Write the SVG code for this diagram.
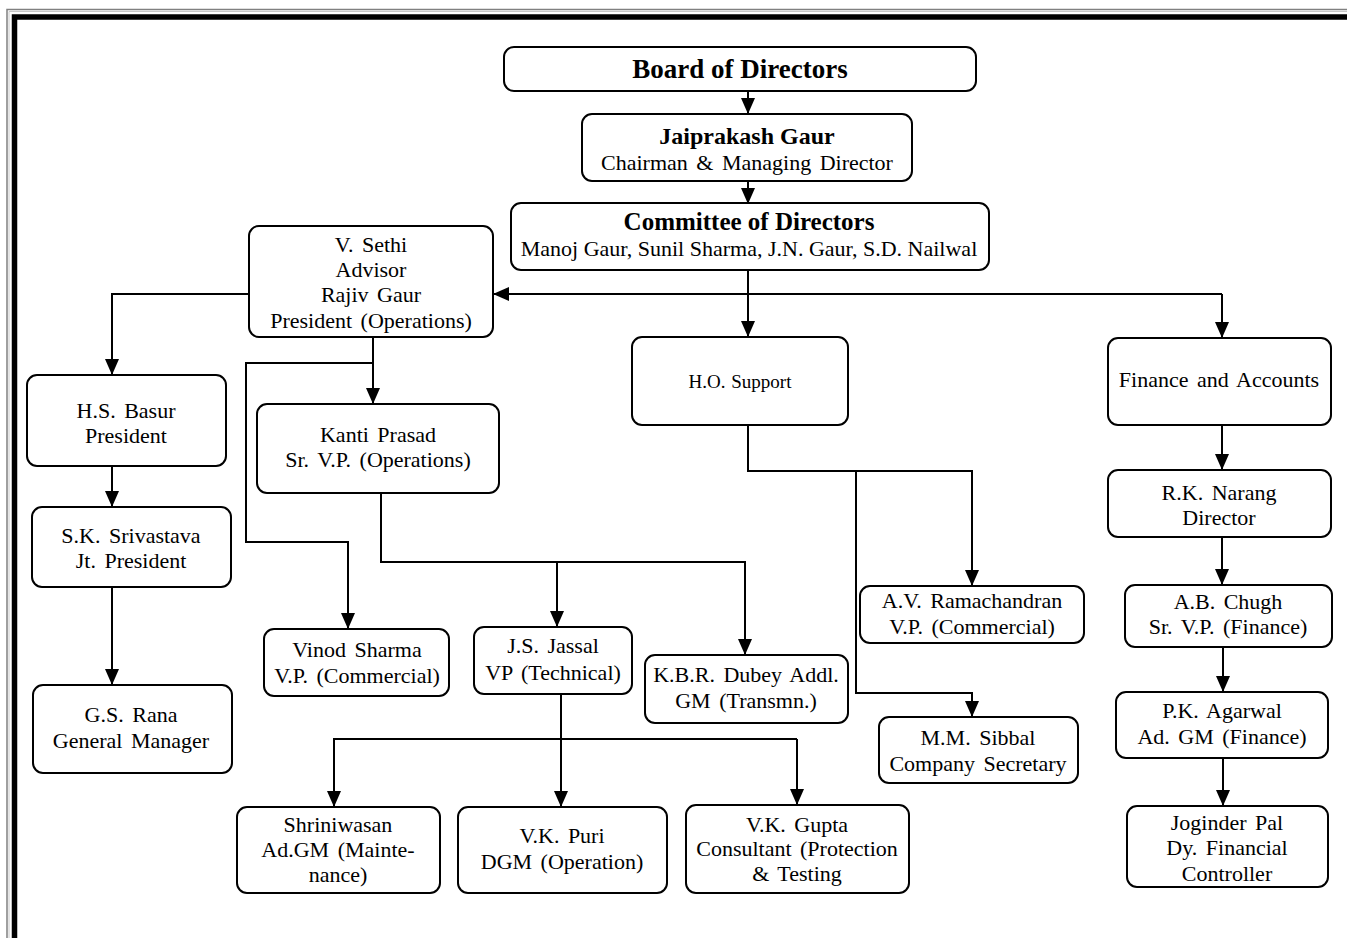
<svg xmlns="http://www.w3.org/2000/svg" width="1347" height="938" viewBox="0 0 1347 938">
<defs>
<marker id="arr" viewBox="0 0 16 14" refX="16" refY="7" markerWidth="16" markerHeight="14" markerUnits="userSpaceOnUse" orient="auto">
<path d="M0,0 L16,7 L0,14 z" fill="#000"/>
</marker>
<style>
.box{fill:#fff;stroke:#000;stroke-width:2}
.t{font-family:"Liberation Serif","Times New Roman",serif;font-size:22px;fill:#000;text-anchor:middle;word-spacing:3px}
.b{font-weight:bold;word-spacing:0}
.b1{font-size:27px}
.b2{font-size:24px}
.b3{font-size:25px}
.n{word-spacing:0}
.s{font-size:19px;word-spacing:1px}
.c{fill:none;stroke:#000;stroke-width:2}
.a{marker-end:url(#arr)}
</style>
</defs>
<rect width="1347" height="938" fill="#fff"/>
<g id="frame">
<path d="M7,945 V9.5 H1350" fill="none" stroke="#808080" stroke-width="1.5"/>
<path d="M9,945 V11.5 H1350" fill="none" stroke="#c8c8c8" stroke-width="1"/>
<path d="M14.5,945 V17 H1350" fill="none" stroke="#000" stroke-width="5.5"/>
</g>
<g id="connectors">
<path class="c a" d="M748,91 V114"/>
<path class="c a" d="M748,181 V204"/>
<path class="c a" d="M748,270 V337"/>
<path class="c a" d="M1222,294 H493"/>
<path class="c a" d="M1222,294 V338"/>
<path class="c a" d="M249,294 H112 V375"/>
<path class="c a" d="M373,337 V404"/>
<path class="c a" d="M373,363 H246 V542 H348 V629"/>
<path class="c a" d="M381,493 V562 H745 V655"/>
<path class="c a" d="M557,562 V627"/>
<path class="c a" d="M748,425 V471 H972 V586"/>
<path class="c a" d="M856,471 V693 H972 V717"/>
<path class="c a" d="M1222,425 V470"/>
<path class="c a" d="M1222,537 V585"/>
<path class="c a" d="M1223,647 V692"/>
<path class="c a" d="M1223,758 V806"/>
<path class="c a" d="M112,466 V507"/>
<path class="c a" d="M112,587 V685"/>
<path class="c a" d="M561,694 V807"/>
<path class="c a" d="M797,739 H334 V807"/>
<path class="c a" d="M797,739 V805"/>
</g>
<g id="board"><rect class="box" x="504" y="47" width="472" height="44" rx="10"/><text class="t b b1" x="740" y="78">Board of Directors</text></g>
<g id="jaiprakash"><rect class="box" x="582" y="114" width="330" height="67" rx="10"/><text class="t b b2" x="747" y="144">Jaiprakash Gaur</text><text class="t" x="747" y="170">Chairman &amp; Managing Director</text></g>
<g id="committee"><rect class="box" x="511" y="203" width="478" height="67" rx="10"/><text class="t b b3" x="749" y="230">Committee of Directors</text><text class="t n" x="749" y="256">Manoj Gaur, Sunil Sharma, J.N. Gaur, S.D. Nailwal</text></g>
<g id="sethi"><rect class="box" x="249" y="226" width="244" height="111" rx="10"/><text class="t" x="371" y="252">V. Sethi</text><text class="t" x="371" y="277">Advisor</text><text class="t" x="371" y="302">Rajiv Gaur</text><text class="t" x="371" y="328">President (Operations)</text></g>
<g id="basur"><rect class="box" x="27" y="375" width="199" height="91" rx="10"/><text class="t" x="126" y="418">H.S. Basur</text><text class="t" x="126" y="443">President</text></g>
<g id="kanti"><rect class="box" x="257" y="404" width="242" height="89" rx="10"/><text class="t" x="378" y="442">Kanti Prasad</text><text class="t" x="378" y="467">Sr. V.P. (Operations)</text></g>
<g id="srivastava"><rect class="box" x="32" y="507" width="199" height="80" rx="10"/><text class="t" x="131" y="543">S.K. Srivastava</text><text class="t" x="131" y="568">Jt. President</text></g>
<g id="rana"><rect class="box" x="33" y="685" width="199" height="88" rx="10"/><text class="t" x="131" y="722">G.S. Rana</text><text class="t" x="131" y="748">General Manager</text></g>
<g id="vinod"><rect class="box" x="264" y="629" width="185" height="67" rx="10"/><text class="t" x="357" y="657">Vinod Sharma</text><text class="t" x="357" y="683">V.P. (Commercial)</text></g>
<g id="jassal"><rect class="box" x="474" y="627" width="158" height="67" rx="10"/><text class="t" x="553" y="653">J.S. Jassal</text><text class="t" x="553" y="680">VP (Technical)</text></g>
<g id="dubey"><rect class="box" x="645" y="655" width="203" height="68" rx="10"/><text class="t" x="746" y="682">K.B.R. Dubey Addl.</text><text class="t" x="746" y="708">GM (Transmn.)</text></g>
<g id="hosupport"><rect class="box" x="632" y="337" width="216" height="88" rx="10"/><text class="t s" x="740" y="388">H.O. Support</text></g>
<g id="finance"><rect class="box" x="1108" y="338" width="223" height="87" rx="10"/><text class="t" x="1219" y="387">Finance and Accounts</text></g>
<g id="narang"><rect class="box" x="1108" y="470" width="223" height="67" rx="10"/><text class="t" x="1219" y="500">R.K. Narang</text><text class="t" x="1219" y="525">Director</text></g>
<g id="ramachandran"><rect class="box" x="860" y="586" width="224" height="57" rx="10"/><text class="t" x="972" y="608">A.V. Ramachandran</text><text class="t" x="972" y="634">V.P. (Commercial)</text></g>
<g id="sibbal"><rect class="box" x="879" y="717" width="199" height="66" rx="10"/><text class="t" x="978" y="745">M.M. Sibbal</text><text class="t" x="978" y="771">Company Secretary</text></g>
<g id="chugh"><rect class="box" x="1125" y="585" width="207" height="62" rx="10"/><text class="t" x="1228" y="609">A.B. Chugh</text><text class="t" x="1228" y="634">Sr. V.P. (Finance)</text></g>
<g id="agarwal"><rect class="box" x="1116" y="692" width="212" height="66" rx="10"/><text class="t" x="1222" y="718">P.K. Agarwal</text><text class="t" x="1222" y="744">Ad. GM (Finance)</text></g>
<g id="joginder"><rect class="box" x="1127" y="806" width="201" height="81" rx="10"/><text class="t" x="1227" y="830">Joginder Pal</text><text class="t" x="1227" y="855">Dy. Financial</text><text class="t" x="1227" y="881">Controller</text></g>
<g id="shriniwasan"><rect class="box" x="237" y="807" width="203" height="86" rx="10"/><text class="t" x="338" y="832">Shriniwasan</text><text class="t" x="338" y="857">Ad.GM (Mainte-</text><text class="t" x="338" y="882">nance)</text></g>
<g id="puri"><rect class="box" x="458" y="807" width="209" height="86" rx="10"/><text class="t" x="562" y="843">V.K. Puri</text><text class="t" x="562" y="869">DGM (Operation)</text></g>
<g id="gupta"><rect class="box" x="686" y="805" width="223" height="88" rx="10"/><text class="t" x="797" y="832">V.K. Gupta</text><text class="t" x="797" y="856">Consultant (Protection</text><text class="t" x="797" y="881">&amp; Testing</text></g>
</svg>
